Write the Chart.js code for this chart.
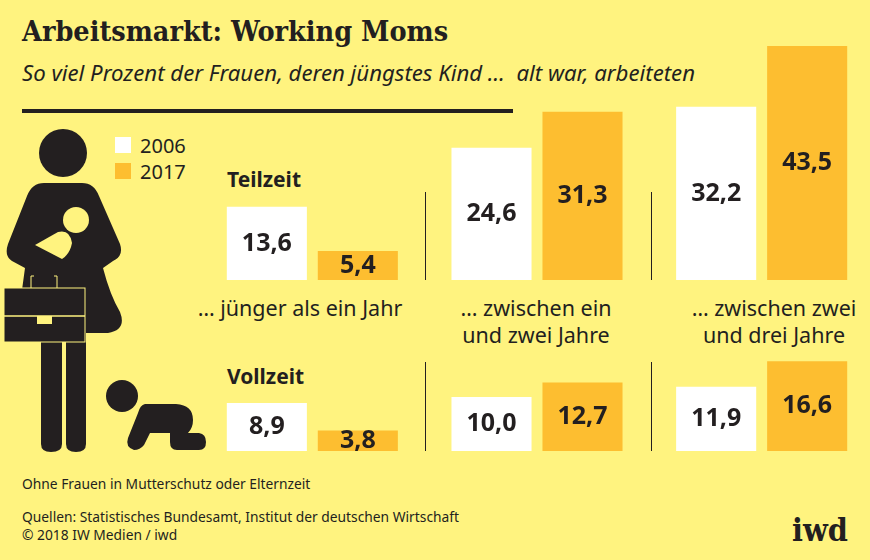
<!DOCTYPE html>
<html lang="de">
<head>
<meta charset="utf-8">
<title>Arbeitsmarkt: Working Moms</title>
<script src="https://cdn.jsdelivr.net/npm/chart.js@4"></script>
<style>
  html, body { margin: 0; padding: 0; }
  body { width: 870px; height: 560px; position: relative; overflow: hidden; background: #FFF37F; color: #231F20; font-family: "Noto Sans", sans-serif; }
  canvas { position: absolute; }
  .t { position: absolute; white-space: pre; line-height: 1; }
  #titel { left: 22px; top: 14px; font: bold 28.5px "DejaVu Serif"; font-stretch: condensed; }
  #unter { left: 22px; top: 62px; font-size: 22.2px; font-style: italic; }
  #linie { position: absolute; left: 22px; top: 109px; width: 491px; height: 4px; background: #231F20; }
  .leg { font-size: 20px; left: 140px; }
  .box { position: absolute; left: 115px; width: 16px; height: 16px; }
  .gruppe { font-size: 21px; font-weight: bold; left: 227px; }
  .kat { font-size: 21.5px; text-align: center; line-height: 27px; transform: translateX(-50%); }
  .strich { position: absolute; width: 1px; background: #231F20; }
  .fuss { font-size: 13.8px; left: 22px; }
  #iwd { left: 792px; top: 511px; font: bold 32px "DejaVu Serif"; font-stretch: condensed; }
  svg { position: absolute; left: 0; top: 0; }
</style>
</head>
<body>
<svg width="220" height="470" viewBox="0 0 220 470">
  <g fill="#231F20">
    <circle cx="63" cy="153" r="24"/>
    <path d="M44 183 H82 Q94 183 99 196 L120 244 Q124 256 113 261 L103 268 Q110 295 120 312 Q127 330 108 333 H86 V342 H40 L22 290 L25 268 L12 261 Q4 256 8 244 L27 196 Q32 183 44 183 Z"/>
    <path d="M41 333 H62 V444 Q62 452 51 452 Q41 452 41 444 Z"/>
    <path d="M66 333 H86 V444 Q86 452 76 452 Q66 452 66 444 Z"/>
    <circle cx="122" cy="396" r="16"/>
    <path d="M145 404 H176 Q193 405 193 420 Q193 428 188 433 H199 Q206 434 206 442 Q206 450 199 450 H177 Q170 450 170 442 V433 H150 L144 445 Q140 450 134 450 Q125 447 128 438 L138 413 Q140 405 145 404 Z"/>
  </g>
  <g fill="#FFF37F">
    <circle cx="76" cy="220" r="13"/>
    <path d="M35 245 L58 232 Q70 229 72 243 Q70 254 62 259 Z"/>
  </g>
  <g>
    <path d="M31 288 V276 H34 M57 288 V276 H54" fill="none" stroke="#FFF37F" stroke-width="1"/>
    <rect x="4" y="288" width="81" height="54" fill="#231F20" stroke="#FFF37F" stroke-width="1"/>
    <path d="M4 316 H85" stroke="#FFF37F" stroke-width="1.5"/>
    <rect x="37" y="316" width="15" height="8" fill="#FFF37F"/>
  </g>
</svg>

<div class="t" id="titel">Arbeitsmarkt: Working Moms</div>
<div class="t" id="unter">So viel Prozent der Frauen, deren jüngstes Kind …  alt war, arbeiteten</div>
<div id="linie"></div>

<div class="box" style="top:137px;background:#FFFFFF"></div>
<div class="t leg" id="leg0" style="top:136px"></div>
<div class="box" style="top:163px;background:#FDBE30"></div>
<div class="t leg" id="leg1" style="top:162px"></div>

<div class="t gruppe" id="gr0" style="top:169px"></div>
<div class="t gruppe" id="gr1" style="top:366px"></div>

<div class="strich" style="left:425px;top:192px;height:88px"></div>
<div class="strich" style="left:651px;top:192px;height:88px"></div>
<div class="strich" style="left:425px;top:362px;height:89px"></div>
<div class="strich" style="left:651px;top:362px;height:89px"></div>

<div class="t kat" id="kat0" style="left:300px;top:294px"></div>
<div class="t kat" id="kat1" style="left:536px;top:294px"></div>
<div class="t kat" id="kat2" style="left:774px;top:294px"></div>

<canvas id="grafikTeilzeit" style="left:200px;top:38px;width:674px;height:242px"></canvas>
<canvas id="grafikVollzeit" style="left:200px;top:343px;width:674px;height:117px"></canvas>

<div class="t fuss" style="top:477px">Ohne Frauen in Mutterschutz oder Elternzeit</div>
<div class="t fuss" style="top:510px">Quellen: Statistisches Bundesamt, Institut der deutschen Wirtschaft</div>
<div class="t fuss" style="top:528px">© 2018 IW Medien / iwd</div>
<div class="t" id="iwd">iwd</div>

<script>
// === Daten ===
const jahre = ['2006', '2017'];
const gruppen = ['Teilzeit', 'Vollzeit'];
const kategorien = [
  ['… jünger als ein Jahr'],
  ['… zwischen ein', 'und zwei Jahre'],
  ['… zwischen zwei', 'und drei Jahre']
];
const teilzeit2006 = [13.6, 24.6, 32.2];
const teilzeit2017 = [5.4, 31.3, 43.5];
const vollzeit2006 = [8.9, 10.0, 11.9];
const vollzeit2017 = [3.8, 12.7, 16.6];

const farben = { w2006: '#FFFFFF', w2017: '#FDBE30', text: '#231F20' };

// === Texte aus den Arrays ===
jahre.forEach((j, i) => { document.getElementById('leg' + i).textContent = j; });
gruppen.forEach((g, i) => { document.getElementById('gr' + i).textContent = g; });
kategorien.forEach((k, i) => { document.getElementById('kat' + i).innerHTML = k.join('<br>'); });

// === Werte mitten in die Balken schreiben ===
const wertePlugin = {
  id: 'werte',
  afterDatasetsDraw(chart) {
    const ctx = chart.ctx;
    ctx.save();
    ctx.font = 'bold 25px "Noto Sans"';
    ctx.fillStyle = farben.text;
    ctx.textAlign = 'center';
    ctx.textBaseline = 'middle';
    chart.data.datasets.forEach((ds, d) => {
      chart.getDatasetMeta(d).data.forEach((bar, i) => {
        const text = ds.data[i].toLocaleString('de-DE', { minimumFractionDigits: 1 });
        ctx.fillText(text, bar.x, (bar.y + bar.base) / 2);
      });
    });
    ctx.restore();
  }
};

function balkenGrafik(id, werte2006, werte2017, yMax, unten) {
  new Chart(document.getElementById(id), {
    type: 'bar',
    data: {
      labels: kategorien.map(k => k.join(' ')),
      datasets: [
        { label: jahre[0], data: werte2006, backgroundColor: farben.w2006 },
        { label: jahre[1], data: werte2017, backgroundColor: farben.w2017 }
      ]
    },
    options: {
      responsive: false,
      animation: false,
      layout: { padding: { bottom: unten } },
      categoryPercentage: 0.81,
      barPercentage: 0.88,
      plugins: { legend: { display: false }, tooltip: { enabled: false } },
      scales: {
        x: { display: false },
        y: { display: false, min: 0, max: yMax }
      }
    },
    plugins: [wertePlugin]
  });
}

balkenGrafik('grafikTeilzeit', teilzeit2006, teilzeit2017, 45, 0);
balkenGrafik('grafikVollzeit', vollzeit2006, vollzeit2017, 20, 9);
</script>
</body>
</html>
